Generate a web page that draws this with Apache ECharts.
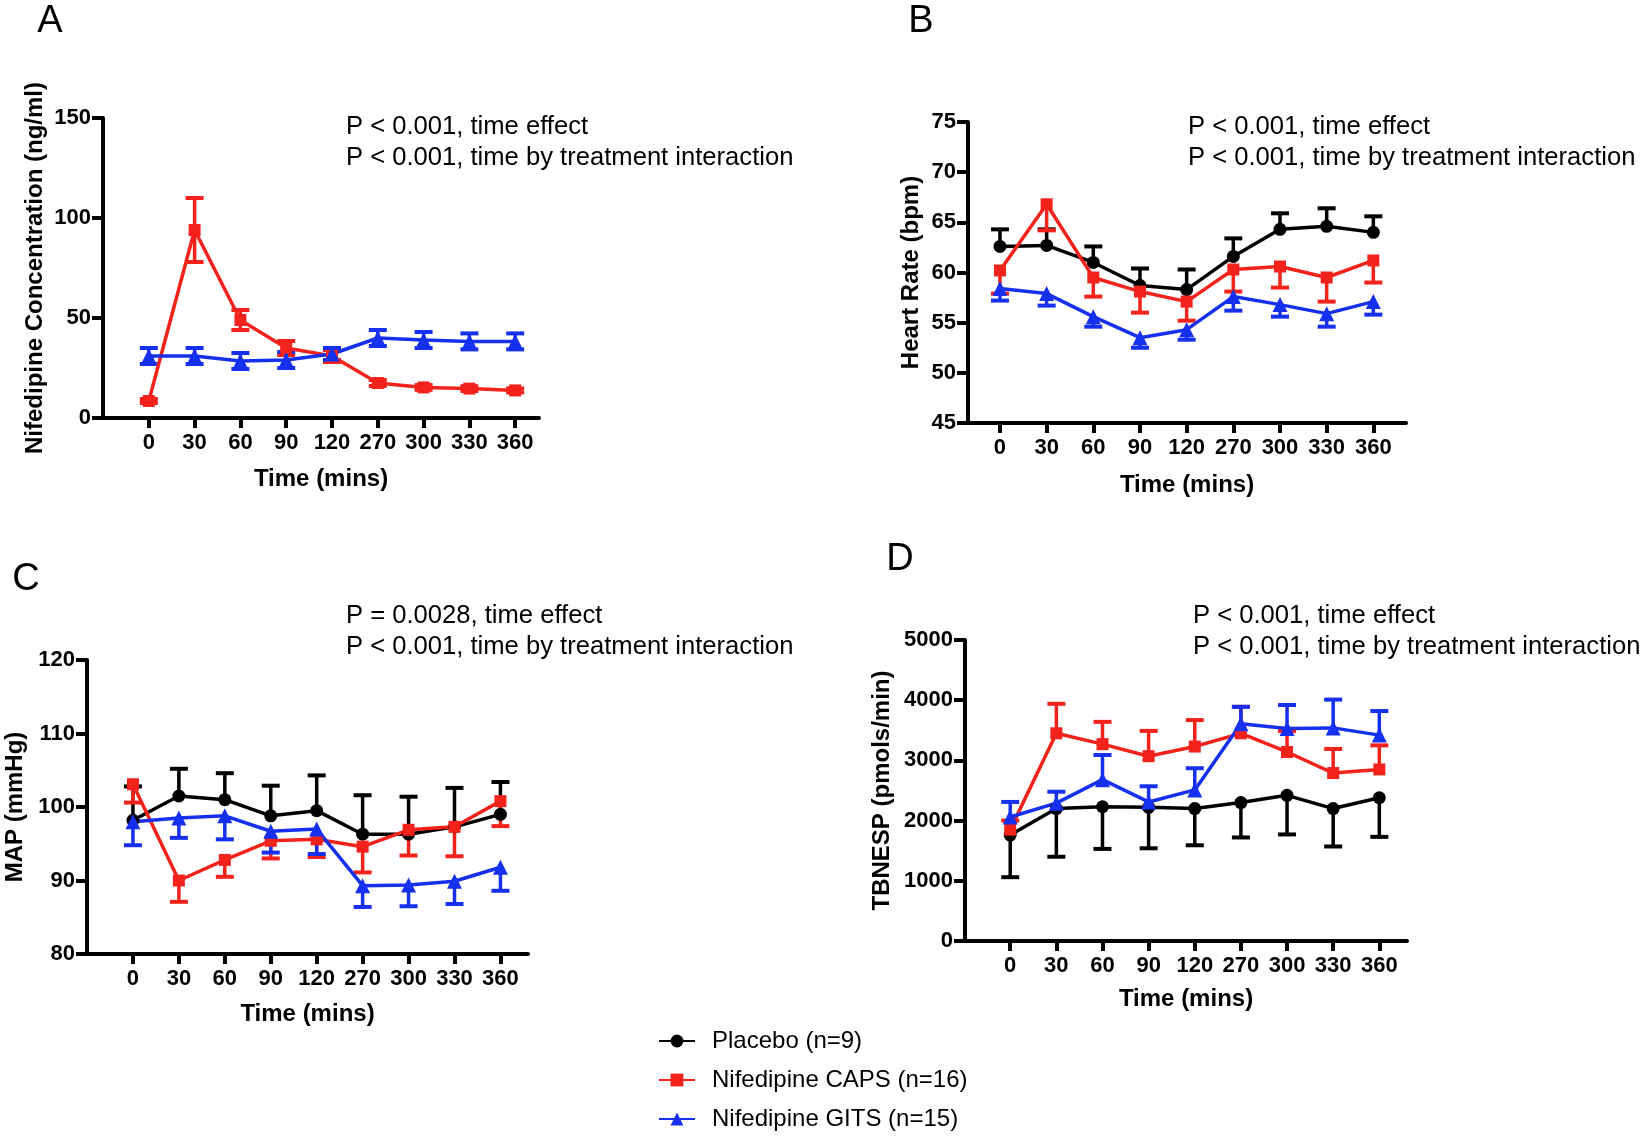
<!DOCTYPE html>
<html>
<head>
<meta charset="utf-8">
<script src="https://cdn.jsdelivr.net/npm/echarts@6/dist/echarts.min.js"></script>
<style>
html,body{margin:0;padding:0;background:#fff;}
#chart{width:1645px;height:1144px;}
</style>
</head>
<body>
<div id="chart"></div>
<script>
// ---------- data ----------
const timeLabels = ['0', '30', '60', '90', '120', '270', '300', '330', '360'];
const seriesNames = ['Placebo (n=9)', 'Nifedipine CAPS (n=16)', 'Nifedipine GITS (n=15)'];

// Panel A: Nifedipine concentration (ng/ml)
const aCaps = [8.5, 94, 49, 35, 31, 17.5, 15.3, 14.7, 13.8];
const aCapsErr = [1, 16, 5, 3.5, 3, 1.5, 1.2, 1.2, 1];
const aGits = [31, 31, 28.5, 29, 32, 40, 39, 38.3, 38.3];
const aGitsErr = [4, 4, 4, 4, 3, 4, 4, 4, 4];

// Panel B: Heart rate (bpm)
const bPlacebo = [62.6, 62.7, 61.0, 58.7, 58.3, 61.6, 64.3, 64.6, 64.0];
const bPlaceboErr = [1.7, 1.6, 1.6, 1.7, 2.0, 1.8, 1.6, 1.8, 1.6];
const bCaps = [60.2, 66.8, 59.5, 58.1, 57.1, 60.3, 60.6, 59.5, 61.2];
const bCapsErr = [2.3, 2.6, 1.9, 2.1, 1.9, 2.2, 2.1, 2.4, 2.2];
const bGits = [58.4, 57.9, 55.6, 53.5, 54.3, 57.6, 56.8, 55.9, 57.1];
const bGitsErr = [1.2, 1.2, 1.0, 1.0, 1.0, 1.4, 1.2, 1.3, 1.3];

// Panel C: MAP (mmHg)
const cPlacebo = [98.2, 101.5, 101.0, 98.8, 99.5, 96.3, 96.3, 97.3, 99.0];
const cPlaceboErr = [4.6, 3.7, 3.6, 4.1, 4.8, 5.3, 5.1, 5.3, 4.4];
const cCaps = [103.1, 90.0, 92.8, 95.4, 95.6, 94.6, 96.9, 97.3, 100.8];
const cCapsErr = [2.5, 2.9, 2.3, 2.4, 2.4, 3.5, 3.5, 4.0, 3.4];
const cGits = [98.0, 98.5, 98.8, 96.7, 97.0, 89.3, 89.4, 89.9, 91.8];
const cGitsErr = [3.2, 2.7, 3.2, 2.9, 3.4, 2.9, 2.9, 3.1, 3.2];

// Panel D: TBNESP (pmols/min)
const dPlacebo = [1760, 2200, 2230, 2220, 2200, 2300, 2420, 2200, 2380];
const dPlaceboErr = [700, 800, 700, 680, 610, 580, 650, 630, 650];
const dCaps = [1850, 3450, 3270, 3070, 3230, 3450, 3140, 2790, 2850];
const dCapsErr = [150, 490, 370, 420, 440, 440, 350, 400, 400];
const dGits = [2060, 2290, 2680, 2310, 2510, 3610, 3530, 3540, 3420];
const dGitsErr = [250, 190, 410, 260, 360, 280, 390, 470, 400];

// y-axis tick settings
const yAxisA = {min: 0, max: 150, interval: 50, name: 'Nifedipine Concentration (ng/ml)'};
const yAxisB = {min: 45, max: 75, interval: 5, name: 'Heart Rate (bpm)'};
const yAxisC = {min: 80, max: 120, interval: 10, name: 'MAP (mmHg)'};
const yAxisD = {min: 0, max: 5000, interval: 1000, name: 'TBNESP (pmols/min)'};

// ---------- styling ----------
const FONT = '"Liberation Sans", Arial, sans-serif';
const colors = ['#000000', '#f3231c', '#1530ef'];
const symbols = ['circle', 'rect', 'triangle'];
const symbolSizes = [13, 12, 15];

const chart = echarts.init(document.getElementById('chart'), null, {renderer: 'canvas'});

const grids = [
  {left: 103, top: 118, width: 436, height: 300},
  {left: 968, top: 122, width: 438, height: 301},
  {left: 87, top: 660, width: 441, height: 294},
  {left: 965, top: 640, width: 442, height: 301}
];
const xRanges = [[-1, 8.52], [-0.685, 8.7], [-1, 8.6], [-0.98, 8.6]];
const xNameGaps = [49, 50, 48, 46];
const yDefs = [yAxisA, yAxisB, yAxisC, yAxisD];
const yNameGaps = [56, 45, 60, 71];
const idx = timeLabels.map((_, i) => i);

const xAxes = grids.map((g, k) => ({
  type: 'value', gridIndex: k, min: xRanges[k][0], max: xRanges[k][1],
  name: 'Time (mins)', nameLocation: 'middle', nameGap: xNameGaps[k],
  nameTextStyle: {fontFamily: FONT, fontWeight: 'bold', fontSize: 24, color: '#000'},
  axisLine: {show: true, onZero: false, lineStyle: {color: '#000', width: 4}},
  axisTick: {show: true, length: 10, customValues: idx, lineStyle: {color: '#000', width: 4}},
  axisLabel: {show: true, customValues: idx, margin: 14, fontFamily: FONT, fontWeight: 'bold', fontSize: 22, color: '#000',
    formatter: v => timeLabels[Math.round(v)] || ''},
  splitLine: {show: false}
}));

const yAxes = yDefs.map((d, k) => ({
  type: 'value', gridIndex: k, min: d.min, max: d.max, interval: d.interval,
  name: d.name, nameLocation: 'middle', nameGap: yNameGaps[k], nameRotate: 90,
  nameTextStyle: {fontFamily: FONT, fontWeight: 'bold', fontSize: 24, color: '#000'},
  axisLine: {show: true, onZero: false, lineStyle: {color: '#000', width: 4}},
  axisTick: {show: true, length: 11, lineStyle: {color: '#000', width: 4}},
  axisLabel: {margin: 12, fontFamily: FONT, fontWeight: 'bold', fontSize: 22, color: '#000',
    formatter: v => String(v)},
  splitLine: {show: false}
}));

function errRender(dir, color) {
  return function (params, api) {
    const x = api.value(0), m = api.value(1), e = api.value(2);
    const c = api.coord([x, m]);
    const hi = api.coord([x, m + e]);
    const lo = api.coord([x, m - e]);
    const top = dir >= 0 ? hi[1] : c[1];
    const bot = dir <= 0 ? lo[1] : c[1];
    const ch = [{type: 'line', shape: {x1: c[0], y1: top, x2: c[0], y2: bot}, style: {stroke: color, lineWidth: 3.5}}];
    const hw = 9;
    if (dir >= 0) ch.push({type: 'line', shape: {x1: c[0] - hw, y1: hi[1], x2: c[0] + hw, y2: hi[1]}, style: {stroke: color, lineWidth: 4}});
    if (dir <= 0) ch.push({type: 'line', shape: {x1: c[0] - hw, y1: lo[1], x2: c[0] + hw, y2: lo[1]}, style: {stroke: color, lineWidth: 4}});
    return {type: 'group', children: ch};
  };
}

const series = [];
function addGroup(k, g, vals, errs, dir) {
  series.push({
    type: 'custom', xAxisIndex: k, yAxisIndex: k, silent: true, z: 2,
    renderItem: errRender(dir, colors[g]),
    encode: {x: 0, y: 1},
    data: vals.map((v, i) => [i, v, errs[i]])
  });
  series.push({
    type: 'line', name: seriesNames[g], xAxisIndex: k, yAxisIndex: k, z: 3,
    symbol: symbols[g], symbolSize: symbolSizes[g], showSymbol: true,
    lineStyle: {color: colors[g], width: 3.5},
    itemStyle: {color: colors[g]},
    data: vals.map((v, i) => [i, v])
  });
}
// Panel A (error bars both directions)
addGroup(0, 1, aCaps, aCapsErr, 0);
addGroup(0, 2, aGits, aGitsErr, 0);
// Panel B
addGroup(1, 0, bPlacebo, bPlaceboErr, 1);
addGroup(1, 1, bCaps, bCapsErr, -1);
addGroup(1, 2, bGits, bGitsErr, -1);
// Panel C
addGroup(2, 0, cPlacebo, cPlaceboErr, 1);
addGroup(2, 1, cCaps, cCapsErr, -1);
addGroup(2, 2, cGits, cGitsErr, -1);
// Panel D
addGroup(3, 0, dPlacebo, dPlaceboErr, -1);
addGroup(3, 1, dCaps, dCapsErr, 1);
addGroup(3, 2, dGits, dGitsErr, 1);

const pTextStyle = {fontFamily: FONT, fontSize: 25.6, fill: '#000', verticalAlign: 'middle', align: 'left'};
const letterStyle = {fontFamily: FONT, fontSize: 38, fill: '#000', verticalAlign: 'middle', align: 'center'};
const graphic = [
  {type: 'text', x: 50, y: 22, style: Object.assign({text: 'A'}, letterStyle)},
  {type: 'text', x: 921, y: 22, style: Object.assign({text: 'B'}, letterStyle)},
  {type: 'text', x: 26, y: 580, style: Object.assign({text: 'C'}, letterStyle)},
  {type: 'text', x: 900, y: 560, style: Object.assign({text: 'D'}, letterStyle)},
  {type: 'text', x: 346, y: 127, style: Object.assign({text: 'P < 0.001, time effect'}, pTextStyle)},
  {type: 'text', x: 346, y: 158, style: Object.assign({text: 'P < 0.001, time by treatment interaction'}, pTextStyle)},
  {type: 'text', x: 1188, y: 127, style: Object.assign({text: 'P < 0.001, time effect'}, pTextStyle)},
  {type: 'text', x: 1188, y: 158, style: Object.assign({text: 'P < 0.001, time by treatment interaction'}, pTextStyle)},
  {type: 'text', x: 346, y: 616, style: Object.assign({text: 'P = 0.0028, time effect'}, pTextStyle)},
  {type: 'text', x: 346, y: 647, style: Object.assign({text: 'P < 0.001, time by treatment interaction'}, pTextStyle)},
  {type: 'text', x: 1193, y: 616, style: Object.assign({text: 'P < 0.001, time effect'}, pTextStyle)},
  {type: 'text', x: 1193, y: 647, style: Object.assign({text: 'P < 0.001, time by treatment interaction'}, pTextStyle)}
];

const legendCenters = [1043, 1082, 1121];
const legends = seriesNames.map((n, g) => ({
  show: true, orient: 'horizontal', left: 658, top: legendCenters[g] - 14, padding: 0,
  itemWidth: 36, itemHeight: 16,
  data: [n],
  textStyle: {fontFamily: FONT, fontSize: 24, color: '#000', padding: [0, 0, 0, 12]},
  selectedMode: false
}));

chart.setOption({
  animation: false,
  backgroundColor: '#ffffff',
  grid: grids,
  xAxis: xAxes,
  yAxis: yAxes,
  series: series,
  graphic: graphic,
  legend: legends
});
</script>
</body>
</html>
